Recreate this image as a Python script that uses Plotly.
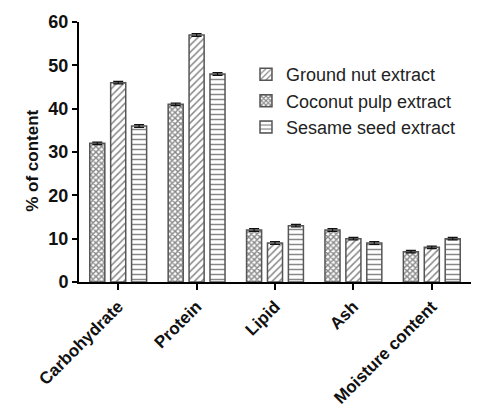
import plotly.graph_objects as go

categories = ["Carbohydrate", "Protein", "Lipid", "Ash", "Moisture content"]
coconut = [32, 41, 12, 12, 7]
groundnut = [46, 57, 9, 10, 8]
sesame = [36, 48, 13, 9, 10]
coconut_err = [0.3, 0.3, 0.3, 0.3, 0.3]
groundnut_err = [0.3, 0.3, 0.3, 0.3, 0.3]
sesame_err = [0.3, 0.3, 0.3, 0.3, 0.3]
y_ticks = [0, 10, 20, 30, 40, 50, 60]

fig = go.Figure()

def add(name, vals, err, shape, size, sol, rank):
    fig.add_trace(go.Bar(
        x=categories, y=vals, name=name, legendrank=rank,
        marker=dict(color="white", line=dict(color="#555555", width=1.5),
                    pattern=dict(shape=shape, size=size, solidity=sol,
                                 fgcolor="#111111", bgcolor="white")),
        error_y=dict(type="data", array=err, visible=True, color="#111111",
                     thickness=1.2, width=5),
    ))

add("Coconut pulp extract", coconut, coconut_err, "x", 4, 0.6, 2)
add("Ground nut extract", groundnut, groundnut_err, "/", 5, 0.3, 1)
add("Sesame seed extract", sesame, sesame_err, "-", 5, 0.3, 3)

fig.update_layout(
    width=498, height=412,
    margin=dict(l=71, r=35, t=14, b=138),
    plot_bgcolor="white", paper_bgcolor="white",
    barmode="group", bargap=0.2, bargroupgap=0.28,
    font=dict(family="Liberation Sans, Arial", color="#111111"),
    showlegend=True,
    legend=dict(x=0.426, y=0.869, xanchor="left", yanchor="top",
                bgcolor="rgba(0,0,0,0)", font=dict(size=18, color="#222222"),
                itemwidth=30),
    xaxis=dict(range=[-0.5, 4.5], showline=True, linecolor="black", linewidth=2,
               ticks="outside", ticklen=6, tickwidth=1.5, tickcolor="black",
               tickangle=-45, showgrid=False, automargin=False,
               tickfont=dict(size=17, weight="bold")),
    yaxis=dict(range=[0, 60], tickvals=y_ticks, showline=True, linecolor="black",
               linewidth=2, ticks="outside", ticklen=5, tickwidth=1.5,
               tickcolor="black", showgrid=False, zeroline=False, automargin=False,
               tickfont=dict(size=18, weight="bold")),
)

fig.add_annotation(text="% of content", xref="paper", yref="paper",
                   x=-0.15, y=0.669, showarrow=False, textangle=-90,
                   font=dict(size=17, weight="bold"))

fig.write_html("out.html")
